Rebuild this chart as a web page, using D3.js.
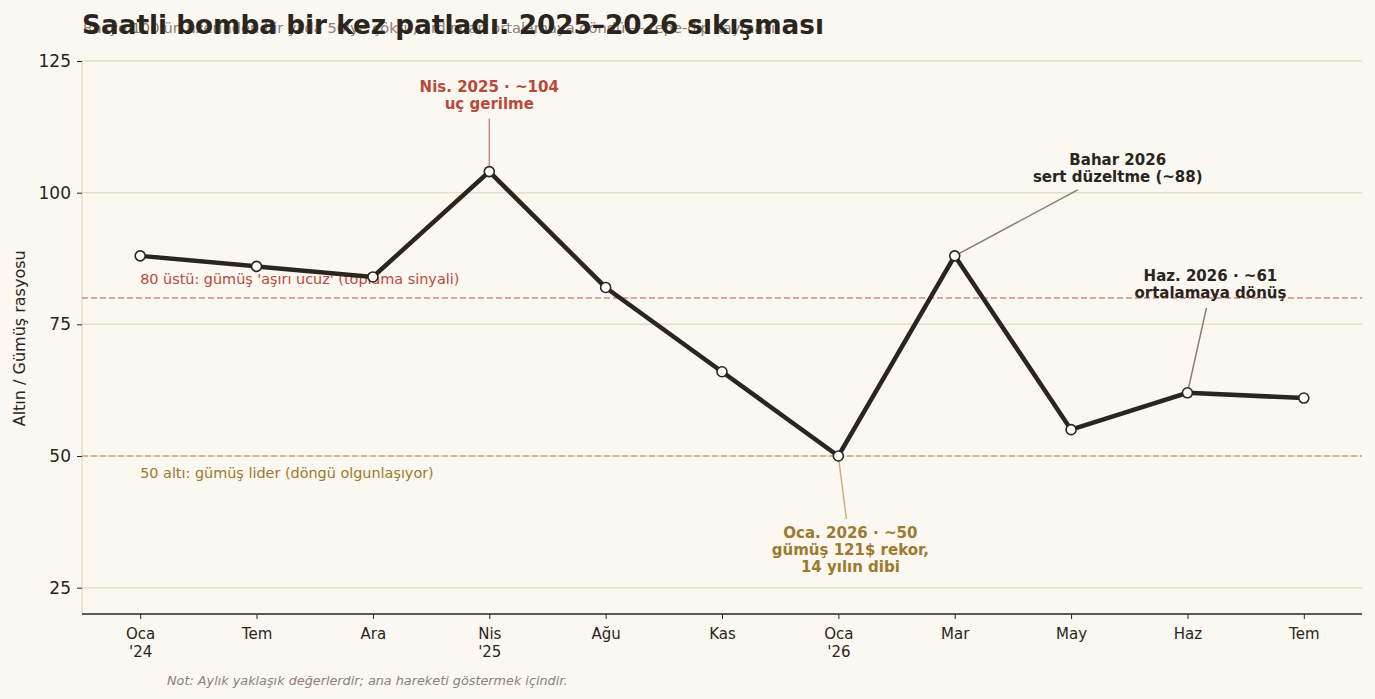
<!DOCTYPE html>
<html>
<head>
<meta charset="utf-8">
<script src="https://cdn.jsdelivr.net/npm/d3@7"></script>
<style>
  body { margin: 0; background: #fbf7f1; }
  svg { display: block; font-family: "DejaVu Sans", sans-serif; }
</style>
</head>
<body>
<div id="chart"></div>
<script>
// monthly gold/silver ratio (approximate)
const months = ["Oca\n'24", "Tem", "Ara", "Nis\n'25", "Ağu", "Kas", "Oca\n'26", "Mar", "May", "Haz", "Tem"];
const ratio = [88, 86, 84, 104, 82, 66, 50, 88, 55, 62, 61];
const yTicks = [25, 50, 75, 100, 125];

const refLines = [
  {value: 80, label: "80 üstü: gümüş 'aşırı ucuz' (toplama sinyali)", line: "#cf8a80", text: "#b84a3c", dy: -18},
  {value: 50, label: "50 altı: gümüş lider (döngü olgunlaşıyor)", line: "#c8a96e", text: "#9c7a2e", dy: 18}
];

const notes = [
  {i: 3, lines: ["Nis. 2025 · ~104", "uç gerilme"], tx: 0, ty: -53, ex: 0, ey: -84, color: "#b84a3c", lineColor: "#cf8a80"},
  {i: 6, lines: ["Oca. 2026 · ~50", "gümüş 121$ rekor,", "14 yılın dibi"], tx: 8, ty: 63, ex: 12, ey: 77, color: "#9c7a2e", lineColor: "#c8b07e"},
  {i: 7, lines: ["Bahar 2026", "sert düzeltme (~88)"], tx: 123, ty: -66, ex: 163, ey: -95, color: "#2b2520", lineColor: "#857d74"},
  {i: 9, lines: ["Haz. 2026 · ~61", "ortalamaya dönüş"], tx: 19, ty: -85, ex: 23, ey: -116, color: "#2b2520", lineColor: "#857d74"}
];

const width = 1375, height = 699;
const margin = {top: 61, right: 13, bottom: 85, left: 82};
const w = width - margin.left - margin.right;
const h = height - margin.top - margin.bottom;

const svg = d3.select('#chart').append('svg')
  .attr('width', width)
  .attr('height', height)
  .style('background', '#fbf7f1');

const x = d3.scalePoint()
  .domain(d3.range(months.length))
  .range([0, w])
  .padding(0.5);

const y = d3.scaleLinear()
  .domain([20, 125])
  .range([h, 0]);

const g = svg.append('g')
  .attr('transform', `translate(${margin.left},${margin.top})`);

// grid
g.append('g')
  .selectAll('line')
  .data(yTicks)
  .join('line')
    .attr('x1', 0).attr('x2', w)
    .attr('y1', d => y(d)).attr('y2', d => y(d))
    .attr('stroke', '#e6dfc8')
    .attr('stroke-width', 1.5);

// left spine (light)
g.append('line')
  .attr('x1', 0).attr('x2', 0)
  .attr('y1', 0).attr('y2', h)
  .attr('stroke', '#e6dfc8')
  .attr('stroke-width', 1.5);

// reference lines
refLines.forEach(r => {
  g.append('line')
    .attr('x1', 0).attr('x2', w)
    .attr('y1', y(r.value)).attr('y2', y(r.value))
    .attr('stroke', r.line)
    .attr('stroke-width', 1.5)
    .attr('stroke-dasharray', '6,3');
  g.append('text')
    .attr('x', x(0))
    .attr('y', y(r.value) + r.dy)
    .attr('dominant-baseline', 'middle')
    .attr('fill', r.text)
    .attr('font-size', '14.4px')
    .text(r.label);
});

// axes
const yAxis = d3.axisLeft(y).tickValues(yTicks).tickSize(5).tickPadding(6);
g.append('g')
  .call(yAxis)
  .call(a => a.select('.domain').remove())
  .call(a => a.selectAll('line').attr('stroke', '#2b2520'))
  .call(a => a.selectAll('text').attr('fill', '#2b2520').attr('font-size', '17px').attr('font-family', '"DejaVu Sans", sans-serif'));

const xAxis = d3.axisBottom(x).tickSize(5).tickPadding(6).tickFormat('');
const xg = g.append('g')
  .attr('transform', `translate(0,${h})`)
  .call(xAxis)
  .call(a => a.select('.domain').attr('stroke', '#2b2520').attr('stroke-width', 1.3).attr('d', `M0,0H${w}`))
  .call(a => a.selectAll('line').attr('stroke', '#2b2520'));

xg.selectAll('.tick').each(function(d) {
  const t = d3.select(this).append('text')
    .attr('fill', '#2b2520')
    .attr('font-size', '15px')
    .attr('font-family', '"DejaVu Sans", sans-serif')
    .attr('text-anchor', 'middle');
  months[d].split('\n').forEach((s, k) => {
    t.append('tspan').attr('x', 0).attr('y', 25 + k * 18).text(s);
  });
});

// y label
svg.append('text')
  .attr('transform', `translate(25,${margin.top + y(75) + 14}) rotate(-90)`)
  .attr('text-anchor', 'middle')
  .attr('fill', '#2b2520')
  .attr('font-size', '16px')
  .text('Altın / Gümüş rasyosu');

// series
const line = d3.line()
  .x((d, i) => x(i))
  .y(d => y(d));

g.append('path')
  .datum(ratio)
  .attr('d', line)
  .attr('fill', 'none')
  .attr('stroke', '#2b2520')
  .attr('stroke-width', 4.5)
  .attr('stroke-linejoin', 'miter');

// annotation connectors
notes.forEach(n => {
  g.append('line')
    .attr('x1', x(n.i)).attr('y1', y(ratio[n.i]))
    .attr('x2', x(n.i) + n.tx).attr('y2', y(ratio[n.i]) + n.ty)
    .attr('stroke', n.lineColor)
    .attr('stroke-width', 1.5);
});

g.selectAll('circle')
  .data(ratio)
  .join('circle')
    .attr('cx', (d, i) => x(i))
    .attr('cy', d => y(d))
    .attr('r', 5)
    .attr('fill', '#ffffff')
    .attr('stroke', '#2b2520')
    .attr('stroke-width', 1.6);

// annotation text
notes.forEach(n => {
  const t = g.append('text')
    .attr('text-anchor', 'middle')
    .attr('fill', n.color)
    .attr('font-size', '15px')
    .attr('font-weight', 'bold');
  n.lines.forEach((s, k) => {
    t.append('tspan')
      .attr('x', x(n.i) + n.ex)
      .attr('y', y(ratio[n.i]) + n.ey + k * 17)
      .attr('dominant-baseline', 'middle')
      .text(s);
  });
});

// subtitle (sits under the title, as in the original)
svg.append('text')
  .attr('x', 83)
  .attr('y', 33)
  .attr('fill', '#8a8178')
  .attr('font-size', '14.6px')
  .text("Rasyo 100'ün üzerinden bir yılda 50'ye çöktü, ardından ortalamaya döndü — tepe-dip kayması");

// title
svg.append('text')
  .attr('x', 82)
  .attr('y', 34)
  .attr('fill', '#2b2520')
  .attr('font-size', '26.3px')
  .attr('font-weight', 'bold')
  .text('Saatli bomba bir kez patladı: 2025–2026 sıkışması');

// footnote
svg.append('text')
  .attr('x', 167)
  .attr('y', 685)
  .attr('fill', '#8a8178')
  .attr('font-size', '12.8px')
  .attr('font-style', 'italic')
  .text('Not: Aylık yaklaşık değerlerdir; ana hareketi göstermek içindir.');
</script>
</body>
</html>
